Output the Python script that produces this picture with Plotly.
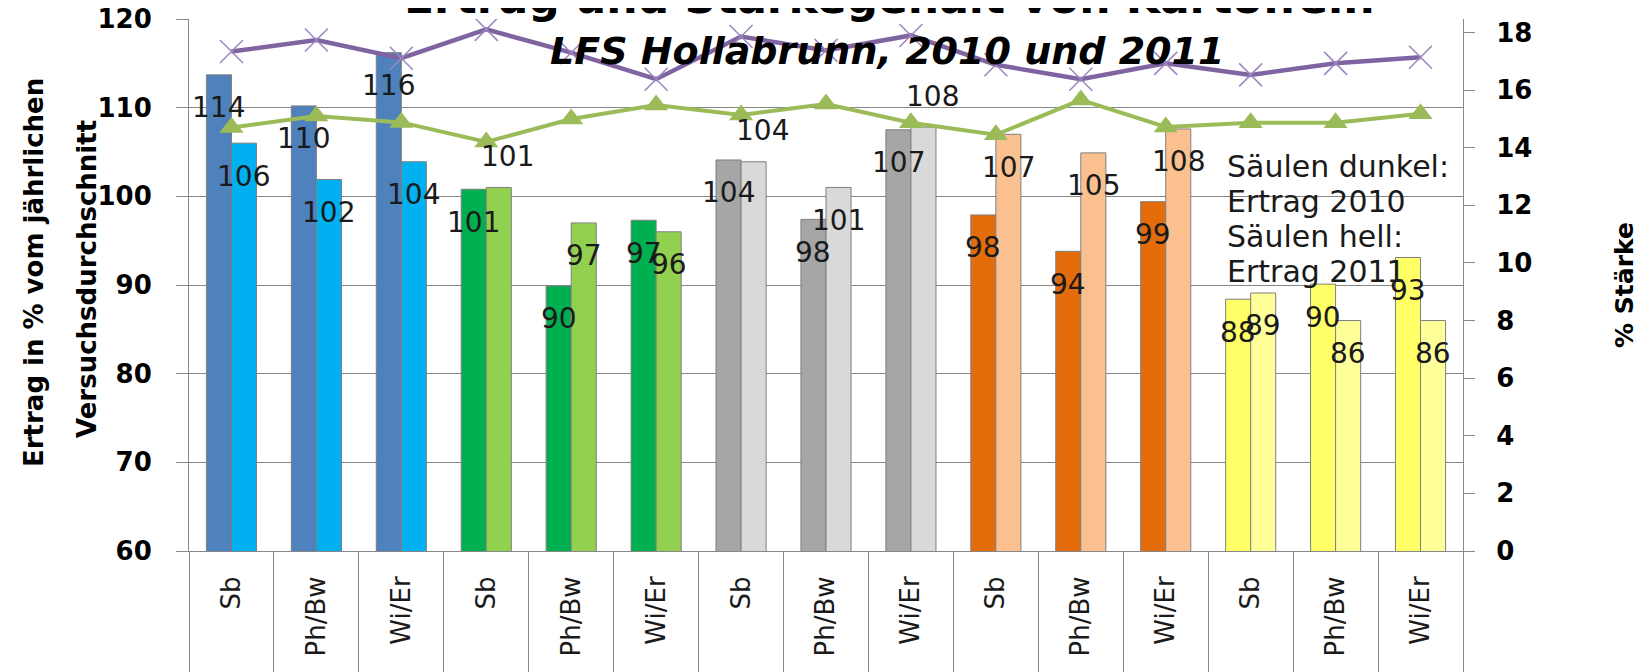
import plotly.graph_objects as go

# ---------------- data ----------------
tick_labels = ["Sb", "Ph/Bw", "Wi/Er"] * 5
ertrag_2010 = [113.7, 110.2, 116.2, 100.8, 89.9, 97.3, 104.1, 97.4, 107.5, 97.9, 93.8, 99.4, 88.4, 90.1, 93.1]
ertrag_2011 = [106.0, 101.9, 103.9, 101.0, 97.0, 96.0, 103.9, 101.0, 107.8, 107.0, 104.9, 107.6, 89.1, 86.0, 86.0]
label_2010 = [114, 110, 116, 101, 90, 97, 104, 98, 107, 98, 94, 99, 88, 90, 93]
label_2011 = [106, 102, 104, 101, 97, 96, 104, 101, 108, 107, 105, 108, 89, 86, 86]
staerke_a = [17.34, 17.74, 17.11, 18.11, 17.30, 16.38, 17.86, 17.38, 17.90, 16.88, 16.38, 16.93, 16.53, 16.93, 17.14]
staerke_b = [14.70, 15.10, 14.88, 14.20, 15.00, 15.48, 15.14, 15.52, 14.87, 14.45, 15.66, 14.72, 14.87, 14.87, 15.18]
note_lines = ["Säulen dunkel:", "Ertrag 2010", "Säulen hell:", "Ertrag 2011"]

# ---------------- styles ----------------
dark_colors = ["#4F81BD"] * 3 + ["#00B050"] * 3 + ["#A6A6A6"] * 3 + ["#E46C0A"] * 3 + ["#FFFF66"] * 3
light_colors = ["#00B0F0"] * 3 + ["#92D050"] * 3 + ["#D9D9D9"] * 3 + ["#FAC090"] * 3 + ["#FFFF99"] * 3

# unique category keys (zero-width spaces keep the visible text identical)
cats = [lab + "\u200b" * i for i, lab in enumerate(tick_labels)]

W, H = 1650, 672
BODY = 8                      # default page margin of the html body
PL, PT, PW, PH = 189, 19, 1274, 532   # wanted plot area in page pixels
L, T = PL - BODY, PT - BODY
R = W - L - PW
B = H - T - PH
BARGAP = 0.41
cat_px = PW / len(cats)
bar_px = cat_px * (1 - BARGAP) / 2
half = bar_px / 2

FONT = "DejaVu Sans"
GRAY = "#878787"


def px_x(px):
    return (px - PL) / PW


def px_y(py):
    return 1 - (py - PT) / PH


fig = go.Figure()
fig.add_trace(go.Bar(x=cats, y=ertrag_2010, name="Ertrag 2010",
                     marker=dict(color=dark_colors, line=dict(color="#7f7f7f", width=1)),
                     yaxis="y"))
fig.add_trace(go.Bar(x=cats, y=ertrag_2011, name="Ertrag 2011",
                     marker=dict(color=light_colors, line=dict(color="#7f7f7f", width=1)),
                     yaxis="y"))
fig.add_trace(go.Scatter(x=cats, y=staerke_a, mode="lines+markers", yaxis="y2",
                         line=dict(color="#8064A2", width=4.5),
                         marker=dict(symbol="x-thin-open", size=23,
                                     line=dict(color="#9C86C0", width=1.5), color="#9C86C0")))
fig.add_trace(go.Scatter(x=cats, y=staerke_b, mode="lines+markers", yaxis="y2",
                         line=dict(color="#9BBB59", width=4),
                         marker=dict(symbol="triangle-up", size=21, color="#9BBB59")))

# data label offsets (style): inside-end below bar top, a few moved above
dy_2010 = [-33] * 15
dy_2011 = [-33] * 15
dx_2011 = [0] * 15
for i in (3, 6, 8):
    dy_2011[i] = 31
    dx_2011[i] = 9

annotations = []
lab_font = dict(family=FONT, size=28, color="#1a1a1a")
for i, c in enumerate(cats):
    annotations.append(dict(x=c, y=ertrag_2010[i], xref="x", yref="y", text=str(label_2010[i]),
                            showarrow=False, xshift=-half, yshift=dy_2010[i], font=lab_font))
    annotations.append(dict(x=c, y=ertrag_2011[i], xref="x", yref="y", text=str(label_2011[i]),
                            showarrow=False, xshift=half + dx_2011[i], yshift=dy_2011[i], font=lab_font))

# titles
annotations.append(dict(text="Ertrag und Stärkegehalt von Kartoffeln", xref="paper", yref="paper",
                        x=px_x(889), y=px_y(-2), xanchor="center", yanchor="middle", showarrow=False,
                        font=dict(family=FONT, size=44, color="#000000", weight="bold")))
annotations.append(dict(text="<i>LFS Hollabrunn, 2010 und 2011</i>", xref="paper", yref="paper",
                        x=px_x(887), y=px_y(51), xanchor="center", yanchor="middle", showarrow=False,
                        font=dict(family=FONT, size=38, color="#000000", weight="bold")))
# left axis title (two lines)
annotations.append(dict(text="Ertrag in % vom jährlichen", xref="paper", yref="paper",
                        x=px_x(34), y=px_y(273), textangle=-90,
                        xanchor="center", yanchor="middle", showarrow=False,
                        font=dict(family=FONT, size=26, color="#000000", weight="bold")))
annotations.append(dict(text="Versuchsdurchschnitt", xref="paper", yref="paper",
                        x=px_x(87), y=px_y(279), textangle=-90,
                        xanchor="center", yanchor="middle", showarrow=False,
                        font=dict(family=FONT, size=26, color="#000000", weight="bold")))
# note text box, one annotation per line
for k, line in enumerate(note_lines):
    annotations.append(dict(text=line, xref="paper", yref="paper",
                            x=px_x(1225), y=px_y(166 + 35.3 * k),
                            xanchor="left", yanchor="middle", align="left", showarrow=False,
                            font=dict(family=FONT, size=30, color="#1a1a1a")))

fig.update_layout(
    width=W, height=H,
    margin=dict(l=L, r=R, t=T, b=B, autoexpand=False),
    paper_bgcolor="white", plot_bgcolor="white",
    barmode="group", bargap=BARGAP, bargroupgap=0,
    showlegend=False,
    annotations=annotations,
    xaxis=dict(type="category", range=[-0.5, len(cats) - 0.5], autorange=False,
               tickson="boundaries", ticks="outside", ticklen=140,
               tickcolor=GRAY, tickwidth=1, showline=True, linecolor=GRAY, linewidth=1,
               showgrid=False, tickangle=-90, ticklabelstandoff=14,
               tickfont=dict(family=FONT, size=26, color="#1a1a1a"), automargin=False),
    yaxis=dict(range=[60, 120], autorange=False, dtick=10, tick0=0, ticks="outside", ticklen=12,
               tickcolor=GRAY, showline=True, linecolor=GRAY, linewidth=1, showgrid=True,
               gridcolor=GRAY, gridwidth=1, zeroline=False, ticklabelstandoff=19,
               ticklabeloverflow="allow",
               tickfont=dict(family=FONT, size=26, color="#000000", weight="bold"), automargin=False),
    yaxis2=dict(range=[0, 18.47], autorange=False, dtick=2, tick0=0, overlaying="y", side="right",
                ticks="outside", ticklen=11, tickcolor=GRAY, showline=True, linecolor=GRAY, linewidth=1,
                showgrid=False, zeroline=False, ticklabelstandoff=16, ticklabeloverflow="allow",
                tickfont=dict(family=FONT, size=26, color="#000000", weight="bold"),
                title=dict(text="% Stärke", standoff=84,
                           font=dict(family=FONT, size=25, color="#000000", weight="bold")),
                automargin=False),
)

fig.write_html("out.html")
